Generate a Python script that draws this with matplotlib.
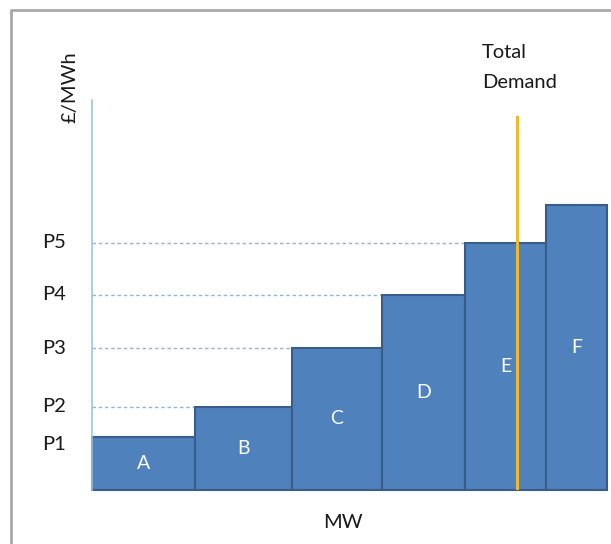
import matplotlib
matplotlib.use("Agg")
import matplotlib.pyplot as plt

plt.rcParams['font.family'] = ['Lato', 'DejaVu Sans']

# Data (arbitrary units)
generators = ["A", "B", "C", "D", "E", "F"]
capacity_mw = [103, 97, 90, 83, 81, 61]
price = [53, 83, 142, 195, 247, 285]
price_labels = ["P1", "P2", "P3", "P4", "P5"]
total_demand = 425

W, H = 611, 544
fig = plt.figure(figsize=(W / 100, H / 100), dpi=100)
fig.patch.set_facecolor('white')

# frame
frame = fig.add_axes([0, 0, 1, 1])
frame.set_xlim(0, W)
frame.set_ylim(H, 0)
frame.axis('off')
frame.plot([11, 11, 615], [560, 10, 10], color='#a8a8a8', lw=2, solid_capstyle='butt')

ax_left, ax_bottom_px, ax_top_px = 92, 490, 100
ax = fig.add_axes([ax_left / W, (H - ax_bottom_px) / H, (W - ax_left) / W,
                   (ax_bottom_px - ax_top_px) / H])
ax.set_xlim(0, W - ax_left)
ax.set_ylim(0, ax_bottom_px - ax_top_px)
ax.patch.set_alpha(0)
for s in ['top', 'right', 'bottom']:
    ax.spines[s].set_visible(False)
ax.spines['left'].set_color('#9cc2e5')
ax.spines['left'].set_linewidth(1.2)
ax.set_xticks([])
ax.set_yticks([])

lefts = []
x = 0
for w in capacity_mw:
    lefts.append(x)
    x += w

ax.bar(lefts, price, width=capacity_mw, align='edge', color='#4f81bd',
       edgecolor='#385d8a', linewidth=1.5, zorder=2, clip_on=False)

for g, l, w, p in zip(generators, lefts, capacity_mw, price):
    ax.text(l + w / 2, p / 2, g, color='white', ha='center', va='center',
            fontsize=14, zorder=4)

# dashed guide lines and price labels
for i, lab in enumerate(price_labels):
    if i > 0:
        ax.plot([0, lefts[i]], [price[i], price[i]], ls=(0, (2.5, 2)),
                color='#95b3d7', lw=1, zorder=1)
    y = price[i] if i > 0 else price[0] - 8
    ax.text(-50, y, lab, ha='left', va='center', fontsize=14.5, color='#1a1a1a',
            clip_on=False)

# total demand
ax.plot([total_demand, total_demand], [0, 373], color='#f2b82b', lw=2.2, zorder=3)
frame.text(482, 53, "Total", ha='left', va='center', fontsize=14.5, color='#1a1a1a')
frame.text(482, 83, "Demand", ha='left', va='center', fontsize=14.5, color='#1a1a1a')

frame.text(70, 87, "£/MWh", rotation=90, ha='center', va='center', fontsize=14.5,
           color='#1a1a1a')
frame.text(343, 523, "MW", ha='center', va='center', fontsize=14.5, color='#1a1a1a')

fig.savefig("out.png", dpi=100)
